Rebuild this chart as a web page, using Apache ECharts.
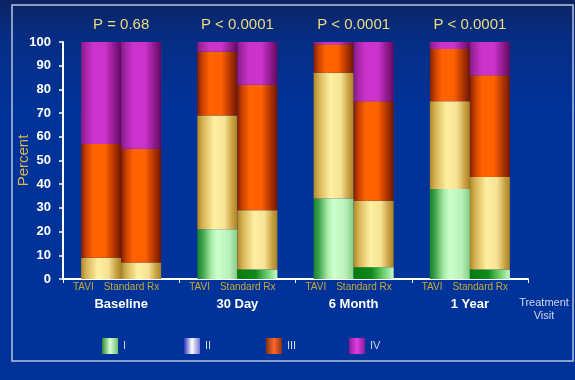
<!DOCTYPE html>
<html>
<head>
<meta charset="utf-8">
<script src="https://cdn.jsdelivr.net/npm/echarts@6/dist/echarts.min.js"></script>
<style>html,body{margin:0;padding:0;background:#003399;}#c{width:575px;height:380px;}</style>
</head>
<body>
<div id="c"></div>
<script>
const categories = ['Baseline', '30 Day', '6 Month', '1 Year'];
const pValues = ['P = 0.68', 'P < 0.0001', 'P < 0.0001', 'P < 0.0001'];
const grades = ['I', 'II', 'III', 'IV'];
const armLabels = ['TAVI', 'Standard Rx'];
const taviI   = [0, 21, 34, 38];
const taviII  = [9, 48, 53, 37];
const taviIII = [48, 27, 12, 22];
const taviIV  = [43, 4, 1, 3];
const stdI    = [0, 4, 5, 4];
const stdII   = [7, 25, 28, 39];
const stdIII  = [48, 53, 42, 43];
const stdIV   = [45, 18, 25, 14];

const FONT = 'Liberation Sans';
function grad(stops) {
  return {type: 'linear', x: 0, y: 0, x2: 1, y2: 0, global: false,
    colorStops: stops.map(s => ({offset: s[0], color: s[1]}))};
}
const stopsGreenT = [[0,'#18862a'],[0.12,'#3a9e48'],[0.35,'#a8eca8'],[0.5,'#ccffcc'],[0.8,'#b8f0b8'],[1,'#84cc84']];
const stopsGreenS = [[0,'#067a0c'],[0.45,'#0f8a1a'],[0.75,'#6ed06e'],[1,'#c4fac4']];
const stopsYellow = [[0,'#b08826'],[0.15,'#d8b85a'],[0.42,'#fff0a0'],[0.68,'#f6e294'],[0.88,'#c8a040'],[1,'#a88424']];
const stopsOrange = [[0,'#821e00'],[0.12,'#c84000'],[0.3,'#ff6200'],[0.6,'#ff6000'],[0.85,'#a83000'],[1,'#701600']];
const stopsMagenta = [[0,'#841a84'],[0.12,'#a826a8'],[0.3,'#cc33cc'],[0.6,'#cc33cc'],[0.85,'#8a1888'],[1,'#640a62']];

const legendStops = [
  [[0,'#2a8a2a'],[0.5,'#d8ffd8'],[1,'#70c070']],
  [[0,'#3030c0'],[0.5,'#ffffff'],[1,'#7070d0']],
  [[0,'#803018'],[0.5,'#ff6a28'],[1,'#903018']],
  [[0,'#8a1a9a'],[0.5,'#e040e0'],[1,'#8a1a9a']]
];

const taviData = [taviI, taviII, taviIII, taviIV];
const stdData = [stdI, stdII, stdIII, stdIV];
const taviStops = [stopsGreenT, stopsYellow, stopsOrange, stopsMagenta];
const stdStops = [stopsGreenS, stopsYellow, stopsOrange, stopsMagenta];

const series = [];
grades.forEach((g, i) => {
  series.push({
    name: g, type: 'bar', stack: 'tavi', data: taviData[i],
    barWidth: 40, barGap: '0%',
    itemStyle: {color: grad(taviStops[i])}
  });
});
grades.forEach((g, i) => {
  series.push({
    name: g + ' (Standard Rx)', type: 'bar', stack: 'std', data: stdData[i],
    barWidth: 40, barGap: '0%',
    itemStyle: {color: grad(stdStops[i])}
  });
});

const legendLefts = [97, 179, 261, 344];
const legends = grades.map((g, i) => ({
  left: legendLefts[i], top: 333,
  data: [{name: g, itemStyle: {color: grad(legendStops[i])}}],
  icon: 'path://M0,0L10,0L10,10L0,10Z', itemWidth: 16, itemHeight: 16,
  selectedMode: false,
  textStyle: {color: '#d0d8ec', fontSize: 11, fontFamily: FONT}
}));

const chart = echarts.init(document.getElementById('c'));
chart.setOption({
  backgroundColor: {type: 'linear', x: 0, y: 0, x2: 0, y2: 1, colorStops: [
    {offset: 0, color: '#0b2462'}, {offset: 0.1, color: '#062d84'},
    {offset: 0.3, color: '#00339a'}, {offset: 1, color: '#003399'}
  ]},
  animation: false,
  graphic: [
    {type: 'rect', z: 1, silent: true,
     shape: {x: 12, y: 5, width: 561, height: 356},
     style: {stroke: '#b8c2dc', lineWidth: 1.5, fill: null}}
  ],
  legend: legends,
  grid: {left: 63, right: 47, top: 42, bottom: 101, containLabel: false},
  xAxis: [
    {
      type: 'category', data: categories, position: 'bottom',
      name: 'Treatment\nVisit', nameLocation: 'end', nameGap: 16, nameMoveOverlap: false,
      nameTextStyle: {color: '#d0d8ec', fontSize: 11, fontFamily: FONT, align: 'center', verticalAlign: 'top',
        lineHeight: 13, padding: [17, 0, 0, 0]},
      axisLine: {lineStyle: {color: '#ffffff', width: 2}},
      axisTick: {show: true, length: 4, lineStyle: {color: '#ffffff', width: 1}},
      axisLabel: {
        margin: 2, interval: 0, fontFamily: FONT,
        formatter: v => '{t|' + armLabels[0] + '}{s|' + armLabels[1] + '}\n{g|' + v + '}',
        rich: {
          t: {color: '#c8a838', fontSize: 10, fontFamily: FONT, lineHeight: 12, padding: [0, 10, 0, 0]},
          s: {color: '#c8a838', fontSize: 10, fontFamily: FONT, lineHeight: 12, padding: [0, 10, 0, 0]},
          g: {color: '#ffffff', fontSize: 13, fontFamily: FONT, fontWeight: 'bold', lineHeight: 22}
        }
      }
    },
    {
      type: 'category', data: pValues, position: 'top',
      axisLine: {show: false}, axisTick: {show: false},
      axisLabel: {color: '#eedc80', fontSize: 15, fontFamily: FONT, margin: 10, interval: 0}
    }
  ],
  yAxis: {
    type: 'value', min: 0, max: 100, interval: 10,
    name: 'Percent', nameLocation: 'middle', nameGap: 32, nameRotate: 90, nameMoveOverlap: false,
    nameTextStyle: {color: '#dcb850', fontSize: 15, fontFamily: FONT},
    axisLine: {show: true, lineStyle: {color: '#ffffff', width: 2}},
    axisTick: {show: true, length: 4, lineStyle: {color: '#ffffff', width: 1.5}},
    axisLabel: {color: '#ffffff', fontSize: 13, fontWeight: 'bold', fontFamily: FONT, margin: 12},
    splitLine: {show: false}
  },
  series: series
});
</script>
</body>
</html>
